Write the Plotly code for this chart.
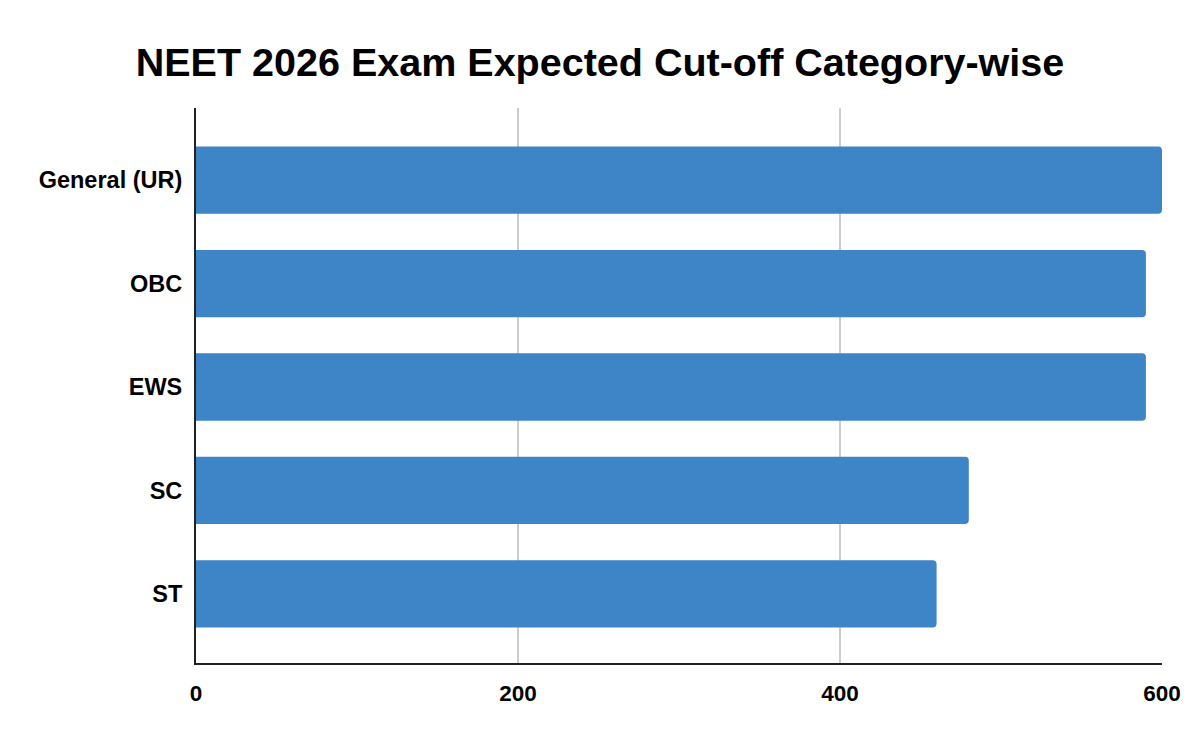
import plotly.graph_objects as go

categories = ["General (UR)", "OBC", "EWS", "SC", "ST"]
cutoffs = [600, 590, 590, 480, 460]
x_ticks = [0, 200, 400, 600]

fig = go.Figure(go.Bar(
    x=cutoffs, y=categories, orientation="h",
    marker=dict(color="#3d85c6", cornerradius=4, line=dict(width=0)),
    width=0.65,
))

fig.update_layout(
    width=1200, height=742,
    margin=dict(l=196, r=38, t=108, b=79),
    paper_bgcolor="white", plot_bgcolor="white",
    title=dict(text="<b>NEET 2026 Exam Expected Cut-off Category-wise</b>",
               x=0.5, xanchor="center", y=0.916, yanchor="middle",
               font=dict(family="Liberation Sans, Arial", size=39.5, color="#000000")),
    font=dict(family="Liberation Sans, Arial", color="#000000"),
    showlegend=False,
    bargap=0.35,
)
fig.update_xaxes(
    range=[0, 600], tickvals=x_ticks, ticktext=[f"<b>{v}</b>" for v in x_ticks],
    showgrid=True, gridcolor="#cccccc", gridwidth=2,
    showline=True, linecolor="#222222", linewidth=2,
    zeroline=False, ticks="", tickfont=dict(size=22.5, color="#000000"),
    ticklabelstandoff=9,
)
fig.update_yaxes(
    type="category", categoryorder="array", categoryarray=categories,
    tickvals=categories, ticktext=[f"<b>{c}</b>" for c in categories],
    range=[4.667, -0.696],
    showline=True, linecolor="#222222", linewidth=2,
    showgrid=False, zeroline=False, ticks="",
    tickfont=dict(size=23.5, color="#000000"), ticklabelstandoff=7,
)

fig.write_html("out.html")
